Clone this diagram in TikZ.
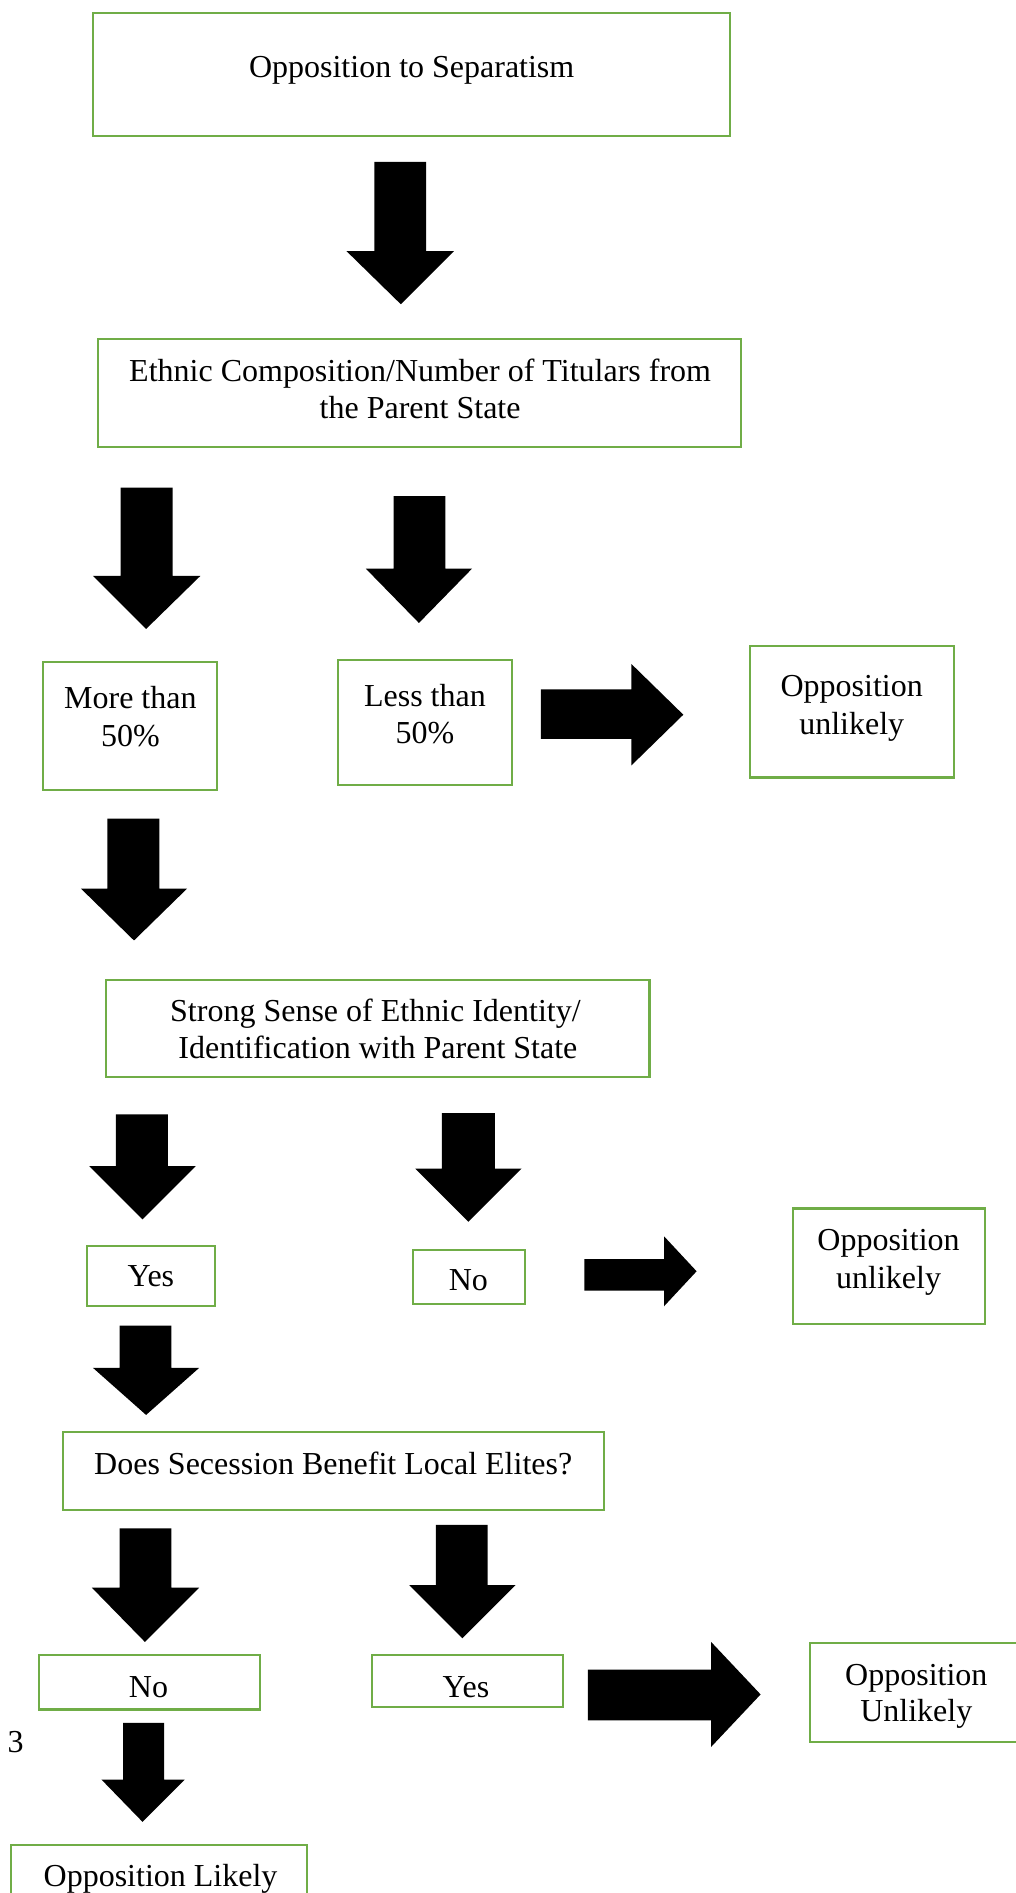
\documentclass[tikz,border=0pt]{standalone}
\usepackage{fontspec}
\setmainfont{Liberation Serif}
\definecolor{boxgreen}{HTML}{70AD47}
\newcommand{\DArrow}[8]{\fill[black] (#1,#3) -- (#2,#3) -- (#2,#4) -- (#6,#4) -- (#7,#8) -- (#5,#4) -- (#1,#4) -- cycle;}
\newcommand{\RArrow}[7]{\fill[black] (#1,#2) -- (#4,#2) -- (#4,#5) -- (#7,{(#5+#6)/2}) -- (#4,#6) -- (#4,#3) -- (#1,#3) -- cycle;}
\begin{document}
\begin{tikzpicture}[x=1pt,y=-1pt,
  greenbox/.style={draw=boxgreen,line width=1.7pt,rectangle,inner sep=0pt,outer sep=0pt},
  txt/.style={anchor=base,inner sep=0pt,font=\fontsize{26.5}{31}\selectfont}]
\useasboundingbox (0,0) rectangle (841,1568);
% boxes
\node[greenbox,minimum width=528,minimum height=102] (b1) at (341,62) {};
\node[greenbox,minimum width=533,minimum height=89] (b2) at (347.5,325.5) {};
\node[greenbox,minimum width=144,minimum height=106] (b3) at (108,601) {};
\node[greenbox,minimum width=144,minimum height=103] (b4) at (352,598.5) {};
\node[greenbox,minimum width=169,minimum height=109] (b5) at (705.5,589.5) {};
\node[greenbox,minimum width=450,minimum height=80] (b6) at (313,852) {};
\node[greenbox,minimum width=106,minimum height=50] (b7) at (125,1057) {};
\node[greenbox,minimum width=93,minimum height=45] (b8) at (388.5,1057.5) {};
\node[greenbox,minimum width=159,minimum height=96] (b9) at (736.5,1049) {};
\node[greenbox,minimum width=448,minimum height=65] (b10) at (276,1218.5) {};
\node[greenbox,minimum width=183,minimum height=45] (b11) at (123.5,1393.5) {};
\node[greenbox,minimum width=158,minimum height=43] (b12) at (387,1392.5) {};
\node[greenbox,minimum width=178,minimum height=82] (b13) at (760,1402) {};
\node[greenbox,minimum width=245,minimum height=47] (b14) at (131.5,1551.5) {};
% texts
\node[txt] (t1) at (341,64) {Opposition to Separatism};
\node[txt] (t2a) at (348,316) {Ethnic Composition/Number of Titulars from};
\node[txt] (t2b) at (348,347) {the Parent State};
\node[txt] (t3a) at (108,587) {More than};
\node[txt] (t3b) at (108,618) {50\%};
\node[txt] (t4a) at (352,585) {Less than};
\node[txt] (t4b) at (352,616) {50\%};
\node[txt] (t5a) at (705.5,577) {Opposition};
\node[txt] (t5b) at (705.5,608) {unlikely};
\node[txt] (t6a) at (311,846) {Strong Sense of Ethnic Identity/};
\node[txt] (t6b) at (313,877) {Identification with Parent State};
\node[txt] (t7) at (125,1066) {Yes};
\node[txt] (t8) at (388,1069) {No};
\node[txt] (t9a) at (736,1036) {Opposition};
\node[txt] (t9b) at (736,1067) {unlikely};
\node[txt] (t10) at (276,1221) {Does Secession Benefit Local Elites?};
\node[txt] (t11) at (123,1406) {No};
\node[txt] (t12) at (386,1406) {Yes};
\node[txt] (t13a) at (759,1396) {Opposition};
\node[txt] (t13b) at (759,1426) {Unlikely};
\node[txt] (t15) at (13,1452) {3};
\node[txt] (t14) at (133,1563) {Opposition Likely};
% block arrows
\DArrow{310}{353}{134}{208}{287}{376}{332}{252}
\DArrow{100}{143}{404}{477}{77}{166}{121}{521}
\DArrow{326}{369}{411}{471}{303}{391}{347}{516}
\RArrow{448}{571}{612}{523}{550}{634}{566}
\DArrow{89}{132}{678}{736}{67}{155}{111}{779}
\DArrow{96}{139}{923}{966}{74}{162}{118}{1010}
\DArrow{366}{410}{922}{968}{344}{432}{388}{1012}
\RArrow{484}{1043}{1069}{550}{1024}{1082}{577}
\DArrow{99}{142}{1098}{1133}{77}{165}{121}{1172}
\DArrow{99}{142}{1266}{1315}{76}{165}{120}{1360}
\DArrow{361}{404}{1263}{1313}{339}{427}{383}{1357}
\RArrow{487}{1383}{1425}{589}{1360}{1447}{630}
\DArrow{102}{136}{1427}{1474}{84}{153}{118}{1509}
\end{tikzpicture}
\end{document}
